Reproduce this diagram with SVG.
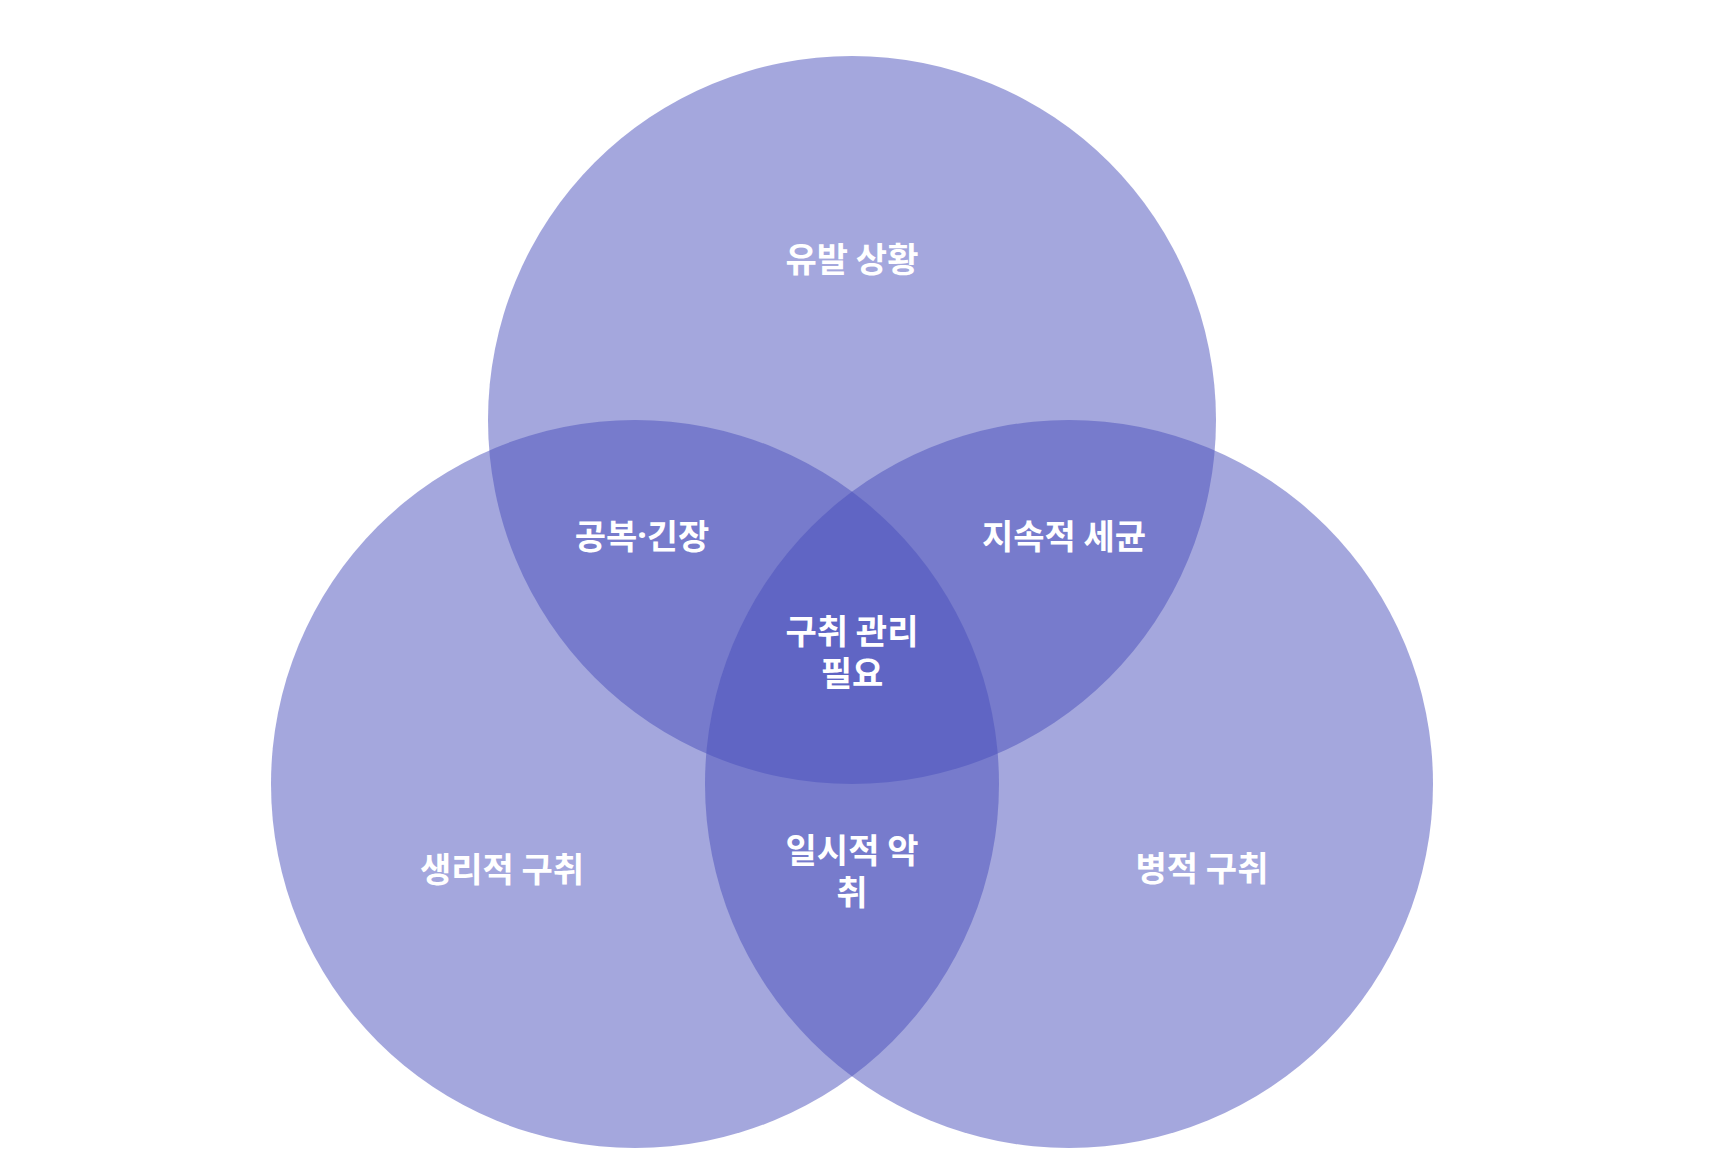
<svg xmlns="http://www.w3.org/2000/svg" width="1715" height="1168" viewBox="0 0 1715 1168">
<style>
.c{fill:#4A50BB;fill-opacity:0.5}
.t{font-family:"Noto Sans CJK KR","Noto Sans",sans-serif;font-weight:bold;font-size:34px;fill:#ffffff;text-anchor:middle;dominant-baseline:central}
.d{font-family:"Noto Sans",sans-serif}
</style>
<rect width="1715" height="1168" fill="#ffffff"/>
<g id="circles">
<circle id="top" class="c" cx="852" cy="420" r="364"/>
<circle id="left" class="c" cx="635" cy="784" r="364"/>
<circle id="right" class="c" cx="1069" cy="784" r="364"/>
</g>
<g id="labels">
<g id="n-top"><text class="t" x="852" y="257">유발 상황</text></g>
<g id="n-tl"><text class="t" x="642" y="534">공복<tspan class="d">·</tspan>긴장</text></g>
<g id="n-tr"><text class="t" x="1064" y="534">지속적 세균</text></g>
<g id="n-center"><text class="t" x="852" y="629">구취 관리</text><text class="t" x="852" y="671">필요</text></g>
<g id="n-left"><text class="t" x="502" y="867">생리적 구취</text></g>
<g id="n-bottom"><text class="t" x="852" y="848">일시적 악</text><text class="t" x="852" y="890">취</text></g>
<g id="n-right"><text class="t" x="1202" y="866">병적 구취</text></g>
</g>
<g id="connectors"/>
</svg>
